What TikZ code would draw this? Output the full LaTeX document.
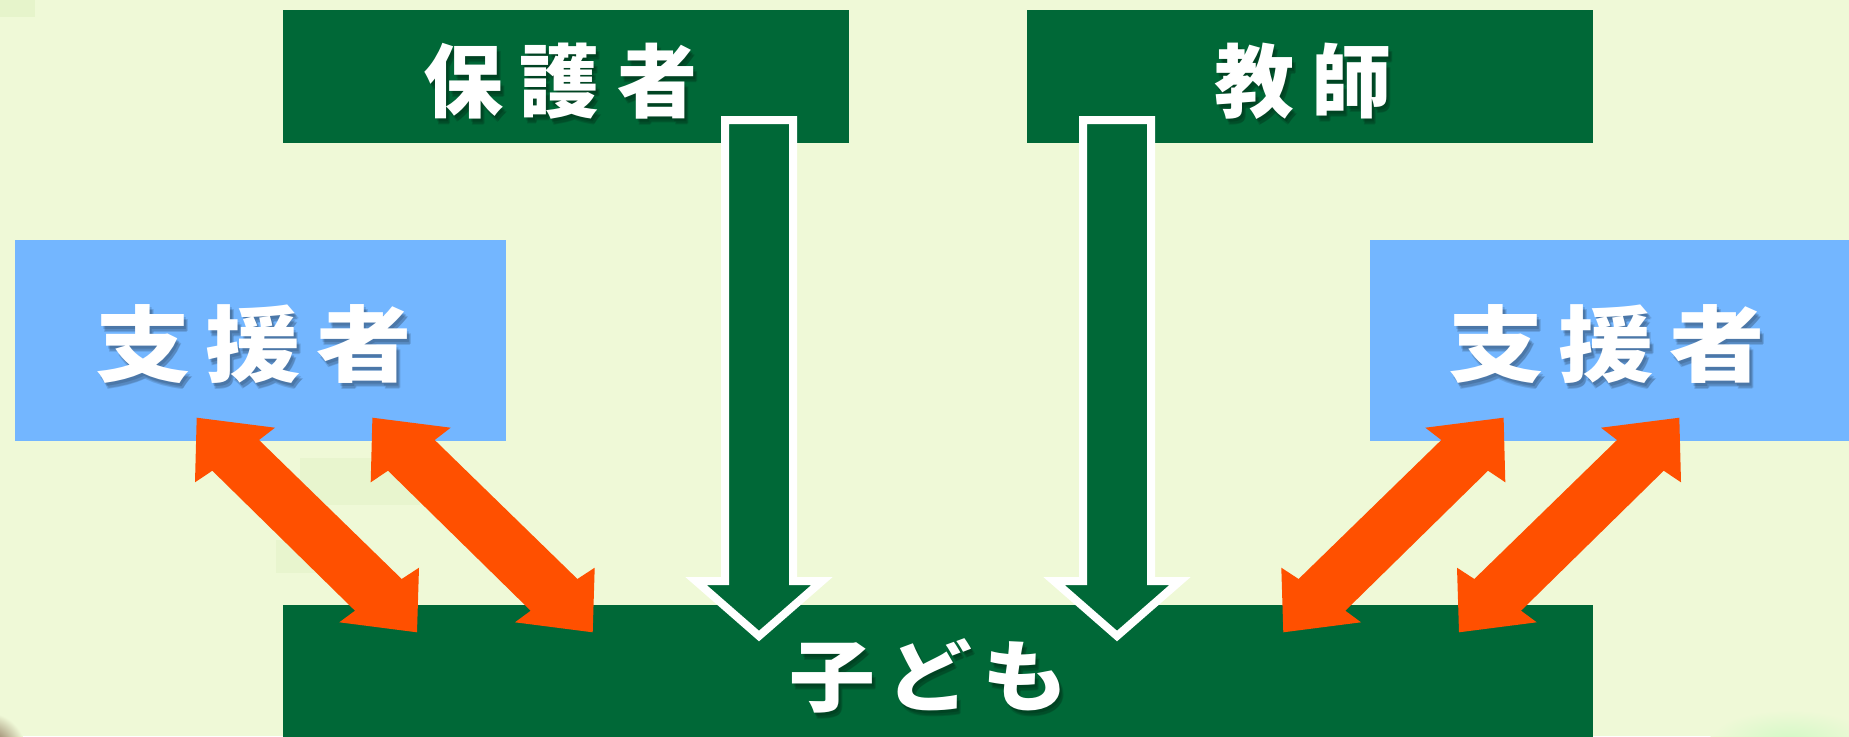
\documentclass[tikz,border=0pt]{standalone}
\usepackage{fontspec}
\newfontfamily\jp{Noto Sans CJK JP}
\definecolor{bg}{RGB}{239,249,215}
\definecolor{bgdark}{RGB}{228,243,200}
\definecolor{dg}{RGB}{0,104,55}
\definecolor{sky}{RGB}{115,182,255}
\definecolor{org}{RGB}{255,80,0}
\definecolor{brn}{RGB}{95,55,35}
\tikzset{
  gbox/.style={fill=dg,draw=none,inner sep=0,outer sep=0},
  bbox/.style={fill=sky,draw=none,inner sep=0,outer sep=0},
  lblA/.style={text=white,inner sep=0,outer sep=0,font=\jp\bfseries\fontsize{80}{80}\selectfont},
  lblB/.style={text=white,inner sep=0,outer sep=0,xscale=1.15,font=\jp\bfseries\fontsize{83}{83}\selectfont},
  lblC/.style={text=white,inner sep=0,outer sep=0,xscale=1.1,font=\jp\bfseries\fontsize{78}{78}\selectfont},
  shd/.style={text=black,text opacity=0.13},
  downarrow/.style={fill=dg,draw=white,line width=8pt,line join=miter},
  dblarrow/.style={fill=org,draw=none},
}
\newcommand{\shlabel}[4]{%
  \node[#1,shd] at ($(#2)+(2,3)$) {#4};
  \node[#1,shd] at ($(#2)+(4,5)$) {#4};
  \node[#1,shd] at ($(#2)+(3,6)$) {#4};
  \node[#1] (#3) at (#2) {#4};}
\usetikzlibrary{calc}
\begin{document}
\begin{tikzpicture}[x=1pt,y=-1pt]
\useasboundingbox (0,0) rectangle (1849,736);
\clip (0,0) rectangle (1849,736);
\fill[bg] (0,0) rectangle (1849,736);
% faint background texture
\fill[bgdark,opacity=0.8] (0,0) rectangle (35,17);
\fill[bgdark,opacity=0.6] (300,458) rectangle (420,505);
\fill[bgdark,opacity=0.6] (276,540) rectangle (335,573);
\shade[inner color=brn,outer color=bg] (-14,752) circle (40);
\shade[inner color=bgdark!80!green!60!white,outer color=bg] (1790,740) ellipse (80 and 30);
% boxes
\node[gbox,minimum width=566pt,minimum height=133pt] (guard) at (566,76.5) {};
\node[gbox,minimum width=566pt,minimum height=133pt] (teach) at (1310,76.5) {};
\node[bbox,minimum width=491pt,minimum height=201pt] (supL) at (260.5,340.5) {};
\node[bbox,minimum width=491pt,minimum height=201pt] (supR) at (1615.5,340.5) {};
\node[gbox,minimum width=1310pt,minimum height=150pt] (child) at (938,680) {};
% labels
\shlabel{lblA}{560,81}{tg}{保\kern17pt護\kern17pt者}
\shlabel{lblA}{1303,81}{tt}{教\kern17pt師}
\shlabel{lblB}{253.5,344.5}{tsl}{支\kern13pt援\kern13pt者}
\shlabel{lblB}{1606.5,344.5}{tsr}{支\kern13pt援\kern13pt者}
\shlabel{lblC}{929,676}{tc}{子\kern10ptど\kern10ptも}
% down arrows (guardian -> child, teacher -> child)
\draw[downarrow] (725,120) -- (793,120) -- (793,581) -- (822,581) -- (759,636)
  -- (696,581) -- (725,581) -- cycle;
\draw[downarrow] (1083,120) -- (1151,120) -- (1151,581) -- (1180,581) -- (1117,636)
  -- (1054,581) -- (1083,581) -- cycle;
% double arrows supporters <-> child
\fill[dblarrow] (196.7,417.7) -- (275,427.7) -- (259,440) -- (401.7,579) -- (419,567.7)
  -- (417,632.3) -- (339.3,622.3) -- (355,610.7) -- (212.3,470.7) -- (195,482.3) -- cycle;
\fill[dblarrow] (372.4,417.7) -- (450.7,427.7) -- (434.7,440) -- (577.4,579) -- (594.7,567.7)
  -- (592.7,632.3) -- (515,622.3) -- (530.7,610.7) -- (388,470.7) -- (370.7,482.3) -- cycle;
\fill[dblarrow] (1503.6,417.7) -- (1425.3,427.7) -- (1441.3,440) -- (1298.6,579) -- (1281.3,567.7)
  -- (1283.3,632.3) -- (1361,622.3) -- (1345.3,610.7) -- (1488,470.7) -- (1505.3,482.3) -- cycle;
\fill[dblarrow] (1679.3,417.7) -- (1601,427.7) -- (1617,440) -- (1474.3,579) -- (1457,567.7)
  -- (1459,632.3) -- (1536.7,622.3) -- (1521,610.7) -- (1663.7,470.7) -- (1681,482.3) -- cycle;
\end{tikzpicture}
\end{document}
